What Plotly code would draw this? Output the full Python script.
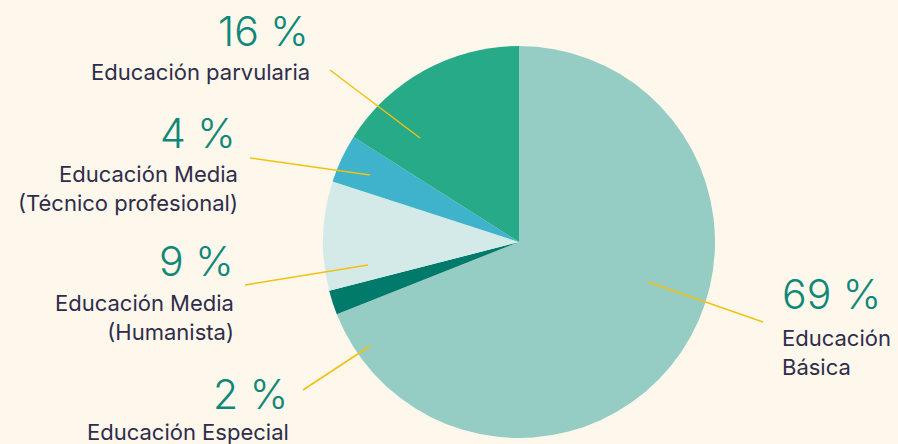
import plotly.graph_objects as go

# ---- data ----
categories = ["Educación Básica", "Educación Especial", "Educación Media (Humanista)",
              "Educación Media (Técnico profesional)", "Educación parvularia"]
values = [69, 2, 9, 4, 16]
pct_labels = ["69 %", "2 %", "9 %", "4 %", "16 %"]
name_labels = ["Educación<br>Básica", "Educación Especial", "Educación Media<br>(Humanista)",
               "Educación Media<br>(Técnico profesional)", "Educación parvularia"]

# ---- style ----
colors = ["#95cdc5", "#007a6a", "#d4eae8", "#3fb3cb", "#26aa88"]
BG = "#fdf7ec"
PCT_COLOR = "#0f8877"
TXT_COLOR = "#2f2d4a"
LINE_COLOR = "#f2c10f"
W, H = 898, 444
FONT = "Inter"

cx, cy, R = 519, 242, 196

fig = go.Figure(go.Pie(
    labels=categories, values=values, sort=False, direction="clockwise", rotation=0,
    marker=dict(colors=colors, line=dict(width=0)),
    textinfo="none", hoverinfo="label+percent", showlegend=False,
    domain=dict(x=[(cx - R) / W, (cx + R) / W], y=[1 - (cy + R) / H, 1 - (cy - R) / H]),
))

def px(x):
    return x / W

def py(y):
    return 1 - y / H

# label layout: pct position, name position, leader line (inner end, outer end)
layout_pos = [
    dict(px=780, py=294, anchor="left", nx=780, ny=352, line=((648, 282), (763, 322))),
    dict(px=290, py=394, anchor="right", nx=291, ny=432, line=((370, 346), (303, 390))),
    dict(px=236, py=261, anchor="right", nx=236, ny=317, line=((368, 265), (245, 285))),
    dict(px=238, py=133, anchor="right", nx=240, ny=188, line=((370, 175), (250, 158))),
    dict(px=311, py=31, anchor="right", nx=312, ny=72, line=((420, 138), (330, 70))),
]

shapes = []
annotations = []
for i, p in enumerate(layout_pos):
    (x0, y0), (x1, y1) = p["line"]
    shapes.append(dict(type="line", xref="paper", yref="paper",
                       x0=px(x0), y0=py(y0), x1=px(x1), y1=py(y1),
                       line=dict(color=LINE_COLOR, width=1.5)))
    annotations.append(dict(text=pct_labels[i], xref="paper", yref="paper",
                            x=px(p["px"]), y=py(p["py"]), xanchor=p["anchor"], yanchor="middle",
                            showarrow=False,
                            font=dict(family=FONT, size=41, weight=300, color=PCT_COLOR)))
    annotations.append(dict(text=name_labels[i], xref="paper", yref="paper",
                            x=px(p["nx"]), y=py(p["ny"]), xanchor=p["anchor"], yanchor="middle",
                            align=p["anchor"], showarrow=False,
                            font=dict(family=FONT, size=22, color=TXT_COLOR)))

fig.update_layout(
    width=W, height=H, margin=dict(l=0, r=0, t=0, b=0),
    paper_bgcolor=BG, plot_bgcolor=BG,
    shapes=shapes, annotations=annotations,
)

fig.write_html("out.html", config={"displayModeBar": False}, post_script=(
    "document.body.style.margin='0';document.body.style.padding='0';"
    "document.body.style.background='#fdf7ec';"))
